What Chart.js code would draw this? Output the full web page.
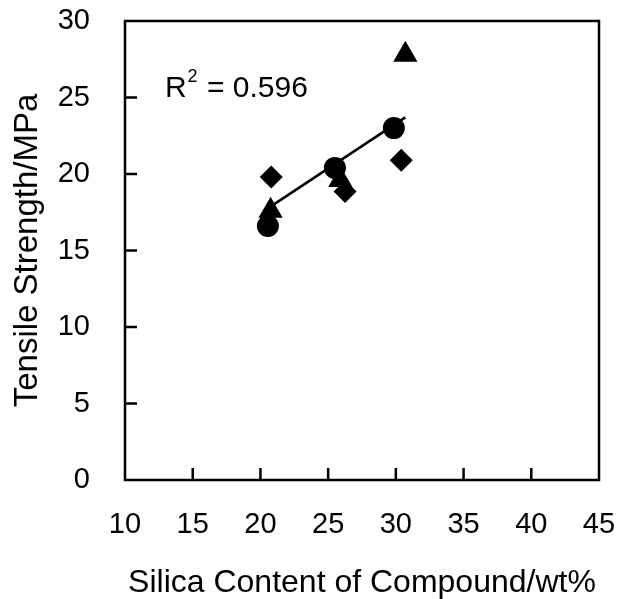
<!DOCTYPE html>
<html>
<head>
<meta charset="utf-8">
<script src="https://cdn.jsdelivr.net/npm/chart.js@4"></script>
<style>
  html, body { margin: 0; padding: 0; background: #fff; }
  #wrap { width: 620px; height: 599px; }
</style>
</head>
<body>
<div id="wrap"><canvas id="chart" width="620" height="599"></canvas></div>
<script>
// data
const circleX = [20.55, 25.5, 29.85];
const circleY = [16.6, 20.4, 23.0];
const triangleX = [20.75, 25.9, 30.7];
const triangleY = [17.6, 19.6, 27.8];
const diamondX = [20.8, 26.25, 30.4];
const diamondY = [19.8, 18.85, 20.9];
const trendX = [20.8, 30.7];
const trendY = [17.9, 23.7];
const xTicks = [10, 15, 20, 25, 30, 35, 40, 45];
const yTicks = [0, 5, 10, 15, 20, 25, 30];
const r2Label = '0.596';

const FONT = "'Liberation Sans', Arial, sans-serif";

function pts(xs, ys) {
  return xs.map((x, i) => ({ x: x, y: ys[i] }));
}

// labels may overhang the plot box, keep the box where it is
function noPad(s) {
  s.paddingLeft = 0;
  s.paddingRight = 0;
  s.paddingTop = 0;
  s.paddingBottom = 0;
}

// inward ticks, frame and R² annotation
const decor = {
  id: 'decor',
  afterDatasetsDraw(chart) {
    const ctx = chart.ctx;
    const a = chart.chartArea;
    const xs = chart.scales.x, ys = chart.scales.y;
    ctx.save();
    ctx.strokeStyle = '#000';
    ctx.lineWidth = 2.5;
    ctx.strokeRect(a.left, a.top, a.right - a.left, a.bottom - a.top);
    ctx.beginPath();
    xTicks.slice(1, -1).forEach(v => {
      const px = xs.getPixelForValue(v);
      ctx.moveTo(px, a.bottom);
      ctx.lineTo(px, a.bottom - 12);
    });
    yTicks.slice(1, -1).forEach(v => {
      const py = ys.getPixelForValue(v);
      ctx.moveTo(a.left, py);
      ctx.lineTo(a.left + 12, py);
    });
    ctx.stroke();

    // R² = ...
    const tx = xs.getPixelForValue(12.95);
    const ty = ys.getPixelForValue(25.6);
    ctx.fillStyle = '#000';
    ctx.textBaseline = 'middle';
    ctx.textAlign = 'left';
    ctx.font = '30px ' + FONT;
    ctx.fillText('R', tx, ty);
    const rw = ctx.measureText('R').width;
    ctx.font = '18px ' + FONT;
    ctx.fillText('2', tx + rw + 1, ty - 11);
    ctx.font = '30px ' + FONT;
    ctx.fillText(' = ' + r2Label, tx + rw + 12, ty);
    ctx.restore();
  }
};

new Chart(document.getElementById('chart'), {
  type: 'scatter',
  data: {
    datasets: [
      {
        label: 'trend',
        type: 'line',
        data: pts(trendX, trendY),
        borderColor: '#000',
        borderWidth: 2.5,
        pointRadius: 0,
        fill: false,
        order: 4
      },
      {
        label: 'diamond',
        data: pts(diamondX, diamondY),
        pointStyle: 'rectRot',
        pointRadius: 11.5,
        backgroundColor: '#000',
        borderColor: '#000',
        borderWidth: 0,
        order: 3
      },
      {
        label: 'triangle',
        data: pts(triangleX, triangleY),
        pointStyle: 'triangle',
        pointRadius: 14,
        backgroundColor: '#000',
        borderColor: '#000',
        borderWidth: 0,
        order: 2
      },
      {
        label: 'circle',
        data: pts(circleX, circleY),
        pointStyle: 'circle',
        pointRadius: 11,
        backgroundColor: '#000',
        borderColor: '#000',
        borderWidth: 0,
        order: 1
      }
    ]
  },
  options: {
    responsive: false,
    animation: false,
    events: [],
    layout: { padding: { top: 21, right: 21, left: 0, bottom: 0 } },
    plugins: {
      legend: { display: false },
      tooltip: { enabled: false }
    },
    scales: {
      x: {
        type: 'linear',
        min: 10,
        max: 45,
        afterFit(s) { s.height = 119; noPad(s); },
        afterBuildTicks(s) { s.ticks = xTicks.map(v => ({ value: v })); },
        grid: { display: false, drawTicks: false },
        border: { display: false },
        ticks: {
          color: '#000',
          padding: 28,
          font: { family: FONT, size: 29 },
          maxRotation: 0
        },
        title: {
          display: true,
          text: 'Silica Content of Compound/wt%',
          color: '#000',
          font: { family: FONT, size: 32 },
          padding: { top: 0, bottom: -3 }
        }
      },
      y: {
        type: 'linear',
        min: 0,
        max: 30,
        afterFit(s) { s.width = 125; noPad(s); },
        afterBuildTicks(s) { s.ticks = yTicks.map(v => ({ value: v })); },
        grid: { display: false, drawTicks: false },
        border: { display: false },
        ticks: {
          color: '#000',
          padding: 35,
          font: { family: FONT, size: 29 }
        },
        title: {
          display: true,
          text: 'Tensile Strength/MPa',
          color: '#000',
          font: { family: FONT, size: 33 },
          padding: { top: 8, bottom: 0 }
        }
      }
    }
  },
  plugins: [decor]
});
</script>
</body>
</html>
